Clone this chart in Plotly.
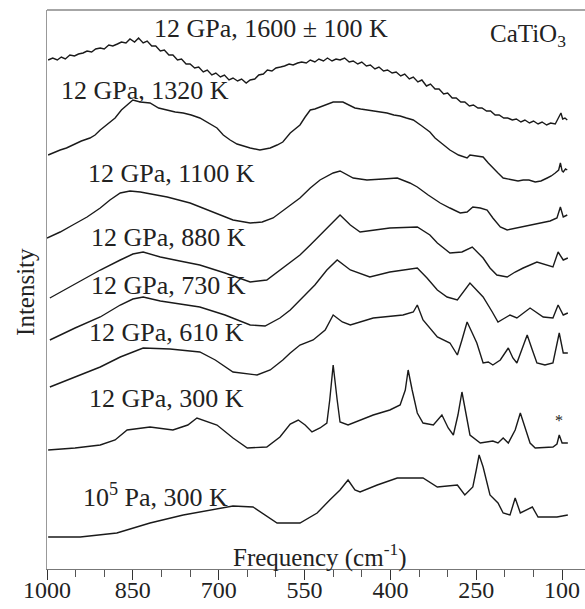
import plotly.graph_objects as go

# ---------------- data (frequency in cm^-1, intensity in arbitrary offset units) -------------
freq_1600 = [998, 990, 982, 975, 968, 960, 952, 945, 937, 930, 922, 915, 907, 900, 892, 885, 877, 870,
             862, 855, 847, 840, 832, 825, 817, 810, 802, 795, 787, 780, 772, 765, 757, 750, 742, 735,
             727, 720, 712, 705, 697, 690, 682, 675, 667, 660, 652, 645, 637, 630, 622, 615, 607, 600,
             592, 585, 577, 570, 562, 555, 547, 540, 532, 525, 517, 510, 502, 495, 488, 480, 472, 465,
             457, 450, 442, 435, 427, 420, 412, 405, 397, 390, 382, 375, 367, 360, 352, 345, 337, 330,
             322, 315, 307, 300, 292, 285, 277, 270, 262, 255, 247, 240, 232, 225, 217, 210, 202, 195,
             187, 180, 172, 165, 157, 150, 142, 135, 127, 120, 112, 108, 105, 102, 99, 95, 91]
int_1600 = [509, 511, 509, 512, 510, 514, 513, 515, 516, 518, 517, 520, 521, 520, 524, 523, 525, 527,
            526, 530, 527, 531, 526, 528, 523, 523, 518, 519, 514, 514, 509, 510, 505, 505, 501, 502,
            497, 499, 494, 496, 492, 494, 489, 491, 488, 490, 486, 489, 490, 494, 495, 499, 498, 501,
            502, 503, 505, 504, 506, 507, 506, 509, 507, 510, 508, 511, 508, 510, 509, 511, 507, 508,
            505, 507, 503, 504, 500, 502, 498, 499, 496, 497, 493, 495, 490, 492, 487, 489, 483, 485,
            480, 480, 475, 476, 471, 471, 467, 467, 463, 464, 461, 461, 458, 458, 454, 454, 451, 451,
            449, 450, 447, 449, 446, 448, 445, 447, 444, 446, 445, 449, 453, 456, 450, 451, 449]

freq_1320 = [998, 987, 977, 966, 955, 940, 925, 916, 907, 894, 881, 870, 860, 850, 837, 820, 805, 790,
             776, 762, 748, 733, 718, 703, 692, 680, 668, 658, 645, 628, 610, 598, 588, 575, 566, 558,
             549, 540, 532, 523, 511, 500, 483, 472, 462, 452, 441, 424, 406, 394, 383, 372, 360, 345,
             331, 322, 313, 305, 296, 281, 266, 261, 250, 238, 229, 221, 212, 203, 194, 186, 177, 168,
             158, 147, 137, 126, 119, 112, 106, 103, 100, 98, 94, 91]
int_1320 = [414, 417, 419, 421, 424, 428, 431, 434, 439, 445, 451, 459, 464, 469, 467, 466, 461, 459,
            457, 456, 454, 451, 446, 441, 434, 429, 425, 423, 421, 419, 421, 424, 427, 436, 440, 444,
            452, 459, 460, 462, 465, 467, 467, 464, 461, 460, 459, 457, 456, 454, 453, 451, 449, 443,
            437, 431, 427, 423, 419, 414, 411, 414, 413, 412, 406, 401, 396, 391, 390, 389, 388, 389,
            389, 387, 388, 391, 393, 396, 399, 406, 398, 397, 400, 399]

freq_1100 = [1000, 977, 955, 930, 907, 890, 872, 855, 837, 815, 790, 750, 710, 675, 645, 624, 605, 581,
             558, 540, 523, 500, 488, 465, 441, 413, 388, 366, 353, 334, 313, 296, 278, 266, 256, 243,
             231, 221, 208, 196, 179, 156, 138, 121, 109, 103, 98, 91]
int_1100 = [331, 337, 344, 352, 361, 369, 376, 378, 377, 375, 372, 366, 357, 349, 346, 347, 351, 361,
            371, 381, 389, 396, 398, 391, 389, 390, 391, 386, 382, 374, 366, 361, 356, 357, 362, 361,
            359, 351, 342, 339, 341, 344, 346, 348, 351, 362, 352, 354]

freq_880 = [995, 951, 907, 872, 850, 832, 802, 768, 733, 689, 645, 616, 588, 575, 558, 540, 523, 506,
            488, 470, 453, 427, 401, 353, 331, 318, 296, 275, 257, 238, 226, 214, 196, 182, 168, 144,
            126, 116, 107, 98, 90]
int_880 = [271, 285, 299, 309, 315, 317, 312, 308, 304, 296, 287, 289, 301, 306, 314, 324, 334, 344,
           354, 344, 337, 339, 341, 342, 334, 326, 316, 317, 322, 311, 301, 294, 292, 297, 301, 307,
           304, 302, 317, 309, 311]

freq_730 = [995, 951, 907, 872, 850, 832, 802, 768, 733, 689, 645, 619, 593, 575, 558, 532, 511, 493,
            470, 436, 401, 353, 336, 318, 301, 283, 261, 238, 222, 212, 200, 191, 179, 156, 133, 116,
            107, 98, 90]
int_730 = [229, 241, 252, 264, 270, 272, 268, 265, 262, 254, 244, 243, 251, 259, 269, 284, 299, 309,
           299, 292, 297, 301, 291, 279, 272, 269, 286, 272, 257, 247, 251, 254, 251, 261, 252, 251,
           264, 254, 256]

freq_610 = [995, 951, 907, 872, 832, 785, 733, 706, 675, 633, 610, 588, 575, 558, 535, 514, 500, 484,
            470, 430, 378, 360, 353, 343, 318, 296, 283, 275, 266, 257, 249, 238, 229, 221, 208, 194,
            186, 179, 170, 161, 152, 144, 130, 116, 105, 98, 90]
int_610 = [182, 192, 202, 212, 221, 220, 217, 209, 197, 194, 199, 209, 216, 224, 229, 239, 254, 247,
           244, 251, 254, 257, 264, 249, 232, 226, 214, 229, 247, 236, 226, 206, 207, 204, 209, 221,
           211, 206, 219, 234, 219, 206, 204, 206, 236, 216, 216]

freq_300 = [998, 951, 907, 881, 860, 820, 780, 754, 738, 720, 703, 675, 650, 616, 593, 575, 561, 549,
            537, 523, 511, 506, 500, 493, 488, 474, 453, 430, 401, 383, 374, 369, 362, 353, 343, 325,
            310, 299, 290, 282, 275, 268, 261, 243, 221, 212, 203, 194, 182, 173, 164, 156, 147, 116,
            109, 105, 100, 90]
int_300 = [119, 121, 124, 129, 139, 142, 139, 144, 151, 147, 144, 131, 121, 122, 132, 145, 149, 144,
           137, 141, 146, 169, 204, 169, 147, 144, 149, 154, 159, 164, 179, 199, 179, 156, 146, 144,
           154, 141, 134, 154, 177, 154, 134, 126, 128, 126, 131, 126, 139, 156, 139, 126, 121, 122,
           125, 134, 126, 126]

freq_ambient = [998, 942, 878, 820, 762, 710, 675, 640, 619, 598, 558, 528, 506, 488, 474, 462, 453,
                423, 388, 343, 318, 283, 270, 256, 250, 245, 238, 226, 212, 203, 191, 182, 173, 163,
                152, 142, 109, 90]
int_ambient = [32, 32, 36, 46, 54, 59, 63, 62, 54, 46, 46, 56, 69, 79, 89, 79, 77, 84, 91, 91, 82, 84,
               74, 82, 99, 114, 102, 74, 66, 56, 54, 71, 56, 59, 62, 52, 52, 54]

spectra = [
    (freq_1600, int_1600), (freq_1320, int_1320), (freq_1100, int_1100), (freq_880, int_880),
    (freq_730, int_730), (freq_610, int_610), (freq_300, int_300), (freq_ambient, int_ambient),
]

label_texts = ["12 GPa, 1600 ± 100 K", "12 GPa, 1320 K", "12 GPa, 1100 K", "12 GPa, 880 K",
               "12 GPa, 730 K", "12 GPa, 610 K", "12 GPa, 300 K", "10<sup>5</sup> Pa, 300 K"]
label_freq = [609, 829, 783, 787, 787, 792, 792, 811]
label_int = [541, 479, 396, 332, 284, 237, 171, 74]

tick_vals = [1000, 850, 700, 550, 400, 250, 100]
tick_text = ["1000", "850", "700", "550", "400", "250", "100"]

# ---------------- figure ---------------------------------------------------------------
SERIF = "Liberation Serif, Times New Roman, serif"
fig = go.Figure()
for fx, fy in spectra:
    fig.add_trace(go.Scatter(x=fx, y=fy, mode="lines",
                             line=dict(color="#1a1a1a", width=1.4), showlegend=False,
                             hoverinfo="skip"))

for t, fx, fy in zip(label_texts, label_freq, label_int):
    fig.add_annotation(x=fx, y=fy, text=t, showarrow=False,
                       font=dict(family=SERIF, size=26, color="#222"))

fig.add_annotation(x=159, y=534, text="CaTiO<sub>3</sub>", showarrow=False,
                   font=dict(family=SERIF, size=25, color="#222"))
fig.add_annotation(x=105, y=149, text="*", showarrow=False,
                   font=dict(family=SERIF, size=16, color="#222"))
fig.add_annotation(x=523, y=14, text="Frequency (cm<sup>-1</sup>)", showarrow=False,
                   font=dict(family=SERIF, size=25, color="#222"))
fig.add_annotation(xref="paper", yref="y", x=-0.041, y=277, xanchor="center", yanchor="middle",
                   text="Intensity", textangle=-90,
                   showarrow=False, font=dict(family=SERIF, size=25, color="#222"))

# top frame line
fig.add_shape(type="line", xref="paper", yref="paper", x0=0, x1=1, y0=1, y1=1,
              line=dict(color="#888", width=1.5))

fig.update_layout(
    width=585, height=609,
    margin=dict(l=47, r=0, t=10, b=40),
    paper_bgcolor="white", plot_bgcolor="white",
    showlegend=False,
)
fig.update_xaxes(
    range=[1000, 60], showgrid=False, zeroline=False,
    showline=True, linecolor="#777", linewidth=1.2,
    tickmode="array", tickvals=tick_vals, ticktext=tick_text,
    ticks="outside", ticklen=10, tickcolor="#333", tickwidth=1.3,
    minor=dict(dtick=50, tick0=100, ticks="outside", ticklen=7, tickcolor="#555", tickwidth=1),
    tickfont=dict(family=SERIF, size=24, color="#222"),
)
try:
    fig.update_xaxes(ticklabelstandoff=-11)
except Exception:
    pass
fig.update_yaxes(
    range=[0, 559], showgrid=False, zeroline=False,
    showline=True, linecolor="#999", linewidth=1,
    showticklabels=False, ticks="",
)

fig.write_html("out.html", config={"displayModeBar": False},
               post_script="document.body.style.margin='0';document.body.style.overflow='hidden';")
